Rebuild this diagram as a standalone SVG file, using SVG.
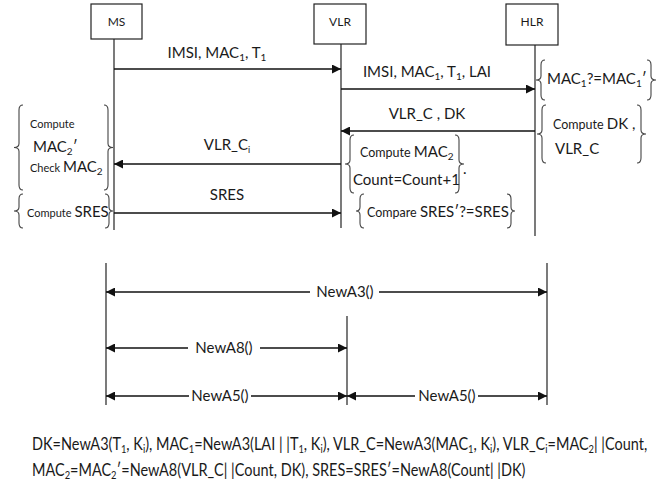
<svg xmlns="http://www.w3.org/2000/svg" width="667" height="486" viewBox="0 0 667 486">
<style>
text{font-family:Lato,"Open Sans","Liberation Sans",sans-serif;fill:#1a1a1a}
.box{fill:#fff;stroke:#222;stroke-width:1.2}
.life{stroke:#222;stroke-width:1.2}
.msg{stroke:#111;stroke-width:1.3;fill:none}
.br{stroke:#444;stroke-width:1.1;fill:none}
.big{font-size:15px}
.sm{font-size:11px}
.hd{font-size:12px}
.lbl{font-size:15px;text-anchor:middle}
.foot{font-size:17px}
</style>
<defs>
<marker id="ah" viewBox="0 0 10 10" refX="10" refY="5" markerWidth="9" markerHeight="9" markerUnits="userSpaceOnUse" orient="auto-start-reverse">
<path d="M0,0 L10,5 L0,10 Z" fill="#111"/>
</marker>
</defs>

<g id="MS">
<rect class="box" x="91" y="4" width="51" height="35"/>
<text class="hd" x="116.5" y="26" text-anchor="middle">MS</text>
<line class="life" x1="114" y1="39" x2="114" y2="230"/>
</g>
<g id="VLR">
<rect class="box" x="314" y="4" width="52" height="40"/>
<text class="hd" x="340" y="26" text-anchor="middle">VLR</text>
<line class="life" x1="341" y1="44" x2="341" y2="228"/>
</g>
<g id="HLR">
<rect class="box" x="506" y="4" width="52" height="41"/>
<text class="hd" x="532" y="26" text-anchor="middle">HLR</text>
<line class="life" x1="535" y1="45" x2="535" y2="236"/>
</g>

<g id="connectors">
<line class="msg" x1="114" y1="69" x2="341" y2="69" marker-end="url(#ah)"/>
<line class="msg" x1="341" y1="89" x2="535" y2="89" marker-end="url(#ah)"/>
<line class="msg" x1="535" y1="131" x2="341" y2="131" marker-end="url(#ah)"/>
<line class="msg" x1="341" y1="164" x2="114" y2="164" marker-end="url(#ah)"/>
<line class="msg" x1="114" y1="213" x2="341" y2="213" marker-end="url(#ah)"/>
</g>

<g id="msg-labels">
<text class="lbl" x="217" y="58">IMSI, MAC<tspan font-size="10" dy="3">1</tspan><tspan dy="-3">, T</tspan><tspan font-size="10" dy="3">1</tspan></text>
<text class="lbl" x="427" y="77">IMSI, MAC<tspan font-size="10" dy="3">1</tspan><tspan dy="-3">, T</tspan><tspan font-size="10" dy="3">1</tspan><tspan dy="-3">, LAI</tspan></text>
<text class="lbl" x="427" y="119">VLR_C , DK</text>
<text class="lbl" x="227" y="150">VLR_C<tspan font-size="9" dy="3">i</tspan></text>
<text class="lbl" x="227" y="200">SRES</text>
</g>

<g id="ms-notes">
<path class="br" d="M23,105 Q19,105 19,110 L19,143.5 Q19,147.5 14,147.5 Q19,147.5 19,151.5 L19,185 Q19,190 23,190"/>
<path class="br" d="M104,105 Q108,105 108,110 L108,143.5 Q108,147.5 113,147.5 Q108,147.5 108,151.5 L108,185 Q108,190 104,190"/>
<text class="sm" x="30" y="128">Compute</text>
<text class="big" x="33" y="152">MAC<tspan font-size="10" dy="3">2</tspan><tspan dy="-3">′</tspan></text>
<text x="30" y="172"><tspan class="sm">Check </tspan><tspan class="big">MAC</tspan><tspan font-size="10" dy="3">2</tspan></text>
<path class="br" d="M23,194 Q19,194 19,199 L19,207 Q19,211 14,211 Q19,211 19,215 L19,223 Q19,228 23,228"/>
<path class="br" d="M105,194 Q109,194 109,199 L109,207 Q109,211 113,211 Q109,211 109,215 L109,223 Q109,228 105,228"/>
<text x="27" y="217"><tspan class="sm">Compute </tspan><tspan class="big">SRES</tspan></text>
</g>

<g id="hlr-notes">
<path class="br" d="M545,60 Q541,60 541,65 L541,76 Q541,80 536,80 Q541,80 541,84 L541,95 Q541,100 545,100"/>
<path class="br" d="M647,60 Q651,60 651,65 L651,76 Q651,80 656,80 Q651,80 651,84 L651,95 Q651,100 647,100"/>
<text class="big" x="547" y="84">MAC<tspan font-size="10" dy="3">1</tspan><tspan dy="-3">?=MAC</tspan><tspan font-size="10" dy="3">1</tspan><tspan dy="-3">′</tspan></text>
<path class="br" d="M546,105 Q542,105 542,110 L542,130 Q542,134 537,134 Q542,134 542,138 L542,158 Q542,163 546,163"/>
<path class="br" d="M637,105 Q641,105 641,110 L641,130 Q641,134 646,134 Q641,134 641,138 L641,158 Q641,163 637,163"/>
<text x="553" y="129"><tspan font-size="12.5">Compute </tspan><tspan class="big">DK ,</tspan></text>
<text class="big" x="555" y="154">VLR_C</text>
</g>

<g id="vlr-notes">
<path class="br" d="M354,135 Q350,135 350,140 L350,160 Q350,164 345,164 Q350,164 350,168 L350,188 Q350,193 354,193"/>
<path class="br" d="M455,135 Q459,135 459,140 L459,160 Q459,164 464,164 Q459,164 459,168 L459,188 Q459,193 455,193"/>
<text x="360" y="157"><tspan font-size="12.5">Compute </tspan><tspan class="big">MAC</tspan><tspan font-size="10" dy="3">2</tspan></text>
<text class="big" x="353" y="185">Count=Count+1</text>
<text class="big" x="463" y="174">.</text>
<path class="br" d="M364,194 Q360,194 360,199 L360,207 Q360,211 356,211 Q360,211 360,215 L360,223 Q360,228 364,228"/>
<path class="br" d="M507,194 Q511,194 511,199 L511,207 Q511,211 515,211 Q511,211 511,215 L511,223 Q511,228 507,228"/>
<text x="367" y="217"><tspan font-size="12.5">Compare </tspan><tspan class="big">SRES′?=SRES</tspan></text>
</g>

<g id="scope">
<line class="life" x1="106" y1="263" x2="106" y2="405"/>
<line class="life" x1="547" y1="263" x2="547" y2="405"/>
<line class="life" x1="347" y1="316" x2="347" y2="405"/>
<line class="msg" x1="106" y1="292" x2="310" y2="292" marker-start="url(#ah)"/>
<line class="msg" x1="379" y1="292" x2="547" y2="292" marker-end="url(#ah)"/>
<text class="lbl" x="345" y="297">NewA3()</text>
<line class="msg" x1="106" y1="348" x2="188" y2="348" marker-start="url(#ah)"/>
<line class="msg" x1="260" y1="348" x2="347" y2="348" marker-end="url(#ah)"/>
<text class="lbl" x="224" y="353">NewA8()</text>
<line class="msg" x1="106" y1="396" x2="189" y2="396" marker-start="url(#ah)"/>
<line class="msg" x1="251" y1="396" x2="347" y2="396" marker-end="url(#ah)"/>
<text class="lbl" x="220" y="401">NewA5()</text>
<line class="msg" x1="347" y1="396" x2="415" y2="396" marker-start="url(#ah)"/>
<line class="msg" x1="478" y1="396" x2="547" y2="396" marker-end="url(#ah)"/>
<text class="lbl" x="447" y="401">NewA5()</text>
</g>

<g id="footnote" transform="translate(32 0) scale(0.852 1)">
<text class="foot" x="0" y="450">DK=NewA3(T<tspan font-size="11" dy="3">1</tspan><tspan dy="-3">, K</tspan><tspan font-size="11" dy="3">i</tspan><tspan dy="-3">), MAC</tspan><tspan font-size="11" dy="3">1</tspan><tspan dy="-3">=NewA3(LAI | |T</tspan><tspan font-size="11" dy="3">1</tspan><tspan dy="-3">, K</tspan><tspan font-size="11" dy="3">i</tspan><tspan dy="-3">), VLR_C=NewA3(MAC</tspan><tspan font-size="11" dy="3">1</tspan><tspan dy="-3">, K</tspan><tspan font-size="11" dy="3">i</tspan><tspan dy="-3">), VLR_C</tspan><tspan font-size="11" dy="3">i</tspan><tspan dy="-3">=MAC</tspan><tspan font-size="11" dy="3">2</tspan><tspan dy="-3">| |Count,</tspan></text>
<text class="foot" x="0" y="476">MAC<tspan font-size="11" dy="3">2</tspan><tspan dy="-3">=MAC</tspan><tspan font-size="11" dy="3">2</tspan><tspan dy="-3">′=NewA8(VLR_C| |Count, DK), SRES=SRES′=NewA8(Count| |DK)</tspan></text>
</g>
</svg>
